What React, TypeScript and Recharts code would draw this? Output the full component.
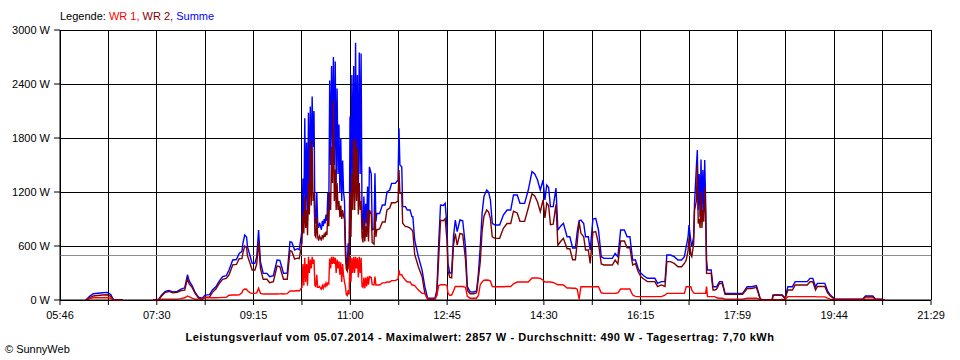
import React from 'react';
import { LineChart, Line, XAxis, YAxis, CartesianGrid, ReferenceLine } from 'recharts';

// time of each sample (HH:MM), a null row breaks the line
const times = [
  '06:14', '06:18', '06:22', '06:27', '06:32', '06:37', '06:41', '06:44', '06:54', '06:55',
  '07:27', '07:33', '07:36', '07:40', '07:44', '07:48', '07:53', '07:57', '08:01', '08:04',
  '08:06', '08:09', '08:12', '08:16', '08:20', '08:23', '08:28', '08:31', '08:35', '08:38',
  '08:42', '08:46', '08:49', '08:53', '08:57', '09:00', '09:03', '09:04', '09:06', '09:08',
  '09:09', '09:12', '09:14', '09:17', '09:19', '09:21', '09:23', '09:26', '09:30', '09:33',
  '09:37', '09:41', '09:44', '09:46', '09:48', '09:52', '09:55', '09:57', '10:00', '10:03',
  '10:05', '10:06', '10:07', '10:08', '10:09', '10:10', '10:11', '10:12', '10:13', '10:14',
  '10:15', '10:16', '10:17', '10:18', '10:19', '10:20', '10:21', '10:22', '10:23', '10:24',
  '10:25', '10:26', '10:27', '10:28', '10:29', '10:30', '10:31', '10:32', '10:33', '10:34',
  '10:35', '10:36', '10:37', '10:38', '10:39', '10:40', '10:41', '10:42', '10:43', '10:44',
  '10:45', '10:46', '10:47', '10:48', '10:49', '10:50', '10:51', '10:52', '10:53', '10:54',
  '10:55', '10:56', '10:57', '10:58', '10:59', '11:00', '11:01', '11:02', '11:03', '11:04',
  '11:05', '11:06', '11:07', '11:08', '11:09', '11:10', '11:11', '11:12', '11:13', '11:14',
  '11:15', '11:16', '11:17', '11:18', '11:19', '11:20', '11:21', '11:23', '11:24', '11:26',
  '11:27', '11:28', '11:29', '11:32', '11:35', '11:38', '11:40', '11:43', '11:45', '11:49',
  '11:52', '11:53', '11:54', '11:56', '11:57', '12:00', '12:02', '12:05', '12:07', '12:08',
  '12:10', '12:14', '12:18', '12:21', '12:24', '12:28', '12:32', '12:34', '12:36', '12:38',
  '12:41', '12:43', '12:45', '12:46', '12:48', '12:50', '12:52', '12:54', '12:56', '12:59',
  '13:02', '13:05', '13:07', '13:10', '13:14', '13:17', '13:19', '13:21', '13:23', '13:25',
  '13:28', '13:30', '13:32', '13:34', '13:37', '13:42', '13:46', '13:50', '13:54', '13:57',
  '14:01', '14:04', '14:09', '14:13', '14:17', '14:20', '14:23', '14:26', '14:29', '14:31',
  '14:33', '14:35', '14:37', '14:40', '14:43', '14:45', '14:48', '14:51', '14:55', '14:58',
  '15:01', '15:04', '15:06', '15:08', '15:10', '15:13', '15:15', '15:18', '15:20', '15:23',
  '15:26', '15:29', '15:32', '15:35', '15:40', '15:44', '15:47', '15:50', '15:53', '15:57',
  '16:00', '16:03', '16:06', '16:09', '16:12', '16:15', '16:18', '16:22', '16:26', '16:30',
  '16:33', '16:37', '16:41', '16:43', '16:47', '16:51', '16:55', '16:59', '17:02', '17:04',
  '17:06', '17:07', '17:09', '17:10', '17:12', '17:13', '17:15', '17:16', '17:17', '17:18',
  '17:19', '17:20', '17:21', '17:22', '17:23', '17:24', '17:25', '17:26', '17:27', '17:29',
  '17:31', '17:33', '17:35', '17:37', '17:40', '17:43', '17:46', '17:51', '17:55', '18:00',
  '18:05', '18:10', '18:15', '18:20', '18:24', '18:26', '18:37', '18:38', '18:43', '18:48',
  '18:51', '18:54', '18:59', '19:02', '19:07', '19:12', '19:15', '19:18', '19:21', '19:24',
  '19:26', '19:30', '19:34', '19:37', '19:40', '19:45', '19:55', '20:05', '20:15', '20:18',
  '20:23', '20:26', '20:29', '20:35', '20:39',
];

// WR 1 (W)
const wr1 = [
  0, 15, 25, 25, 25, 27, 20, 0, 0, null,
  0, 5, 10, 10, 10, 10, 10, 15, 25, 45,
  35, 20, 10, 10, 10, 25, 25, 26, 25, 26,
  29, 30, 53, 55, 55, 58, 80, 110, 122, 120,
  102, 80, 74, 74, 80, 130, 74, 66, 66, 67,
  67, 67, 68, 70, 66, 70, 100, 100, 100, 105,
  100, 110, 130, 140, 400, 160, 470, 200, 400, 160,
  480, 300, 450, 350, 480, 400, 450, 160, 150, 280,
  140, 140, 150, 130, 120, 160, 130, 170, 150, 190,
  160, 190, 180, 460, 350, 480, 400, 480, 400, 470,
  300, 450, 350, 430, 280, 420, 200, 400, 270, 200,
  150, 60, 50, 110, 60, 480, 200, 470, 300, 480,
  300, 480, 350, 470, 250, 480, 300, 470, 150, 140,
  250, 130, 250, 150, 260, 170, 260, 250, 170, 167,
  260, 167, 167, 167, 190, 190, 200, 200, 215, 215,
  233, 333, 280, 280, 259, 220, 200, 200, 167, 167,
  160, 110, 74, 74, 10, 10, 10, 50, 160, 170,
  170, 170, 160, 80, 50, 55, 100, 150, 150, 150,
  150, 140, 40, 20, 20, 20, 50, 170, 200, 220,
  222, 220, 210, 150, 148, 148, 148, 150, 150, 180,
  200, 200, 200, 200, 245, 245, 245, 240, 220, 200,
  200, 200, 200, 195, 180, 170, 170, 167, 133, 133,
  130, 130, 120, 10, 148, 148, 148, 148, 148, 148,
  148, 148, 80, 74, 74, 74, 74, 80, 122, 122,
  122, 122, 55, 40, 37, 37, 37, 37, 37, 37,
  37, 37, 54, 74, 74, 74, 74, 74, 74, 148,
  148, 148, 148, 110, 80, 74, 74, 74, 74, 74,
  74, 74, 74, 74, 74, 74, 74, 148, 37, 37,
  37, 37, 37, 25, 20, 20, 10, 10, 10, 10,
  10, 20, 20, 20, 10, 0, 0, 5, 0, 5,
  5, 37, 37, 37, 37, 37, 37, 37, 37, 37,
  35, 35, 35, 20, 10, 5, 5, 5, 5, 10,
  10, 10, 5, 5, 0,
];

// WR 2 (W)
const wr2 = [
  0, 25, 45, 50, 55, 58, 40, 0, 0, null,
  0, 5, 45, 85, 95, 80, 85, 105, 110, 235,
  175, 140, 80, 20, 10, 30, 35, 85, 125, 178,
  230, 240, 280, 390, 395, 460, 460, 520, 600, 580,
  490, 400, 333, 333, 400, 648, 352, 230, 230, 192,
  203, 377, 372, 300, 230, 230, 548, 540, 455, 465,
  460, 520, 570, 640, 950, 740, 1150, 800, 1000, 720,
  1300, 950, 1780, 1050, 1700, 1100, 1200, 720, 700, 920,
  700, 660, 710, 690, 660, 720, 690, 730, 700, 760,
  720, 1000, 820, 1200, 1000, 1700, 1300, 2220, 1100, 1450,
  1000, 1300, 1000, 1100, 920, 1050, 900, 1000, 930, 900,
  500, 340, 320, 520, 340, 1185, 700, 1400, 1000, 1780,
  1000, 1790, 1100, 1700, 950, 1300, 1000, 1100, 700, 640,
  900, 650, 820, 700, 1000, 650, 1000, 950, 640, 620,
  1000, 700, 780, 790, 866, 866, 1000, 1022, 1080, 1080,
  1100, 1444, 1185, 1185, 852, 815, 815, 800, 778, 760,
  507, 370, 259, 74, 10, 10, 10, 60, 470, 885,
  880, 904, 655, 327, 250, 245, 603, 739, 610, 739,
  730, 453, 108, 70, 69, 80, 246, 423, 763, 930,
  1000, 980, 901, 702, 685, 685, 796, 850, 850, 987,
  967, 874, 874, 1022, 1181, 1155, 1088, 982, 1113, 911,
  1078, 1050, 837, 842, 1064, 608, 650, 685, 570, 570,
  448, 448, 639, 870, 741, 702, 555, 555, 407, 752,
  759, 630, 401, 389, 389, 389, 444, 401, 656, 656,
  581, 581, 389, 404, 313, 259, 233, 204, 204, 204,
  148, 167, 150, 426, 426, 407, 370, 370, 406, 444,
  552, 685, 502, 482, 620, 1000, 1100, 1500, 850, 900,
  800, 1200, 800, 1000, 870, 1250, 950, 296, 296, 296,
  296, 111, 111, 123, 184, 184, 64, 64, 64, 64,
  64, 128, 128, 140, 10, 0, 0, 50, 55, 50,
  15, 111, 111, 167, 167, 167, 167, 203, 203, 111,
  150, 150, 150, 80, 45, 5, 5, 5, 5, 34,
  34, 34, 5, 5, 0,
];

// Summe (W)
const summe = [
  0, 40, 70, 75, 80, 85, 60, 0, 0, null,
  0, 10, 55, 95, 105, 90, 95, 120, 135, 280,
  210, 160, 90, 30, 20, 55, 60, 111, 150, 204,
  259, 270, 333, 445, 450, 518, 540, 630, 722, 700,
  592, 480, 407, 407, 480, 778, 426, 296, 296, 259,
  270, 444, 440, 370, 296, 300, 648, 640, 555, 570,
  560, 630, 700, 780, 1350, 900, 2020, 1000, 1750, 880,
  2080, 1250, 2150, 1400, 2260, 1700, 2100, 880, 850, 1200,
  840, 800, 860, 820, 780, 880, 820, 900, 850, 950,
  880, 1190, 1000, 2440, 1500, 2600, 1700, 2700, 1500, 2650,
  1300, 2350, 1400, 1950, 1200, 1800, 1100, 1550, 1200, 1100,
  650, 400, 370, 630, 400, 2040, 900, 2500, 1400, 2600,
  1300, 2857, 1500, 2500, 1200, 2750, 1400, 2740, 850, 780,
  1150, 780, 1070, 850, 1260, 820, 1480, 1400, 780, 790,
  1407, 870, 963, 960, 1056, 1056, 1200, 1222, 1296, 1296,
  1333, 1907, 1500, 1480, 1037, 1037, 1000, 1000, 926, 926,
  667, 481, 333, 148, 20, 20, 20, 111, 630, 1055,
  1050, 1074, 815, 407, 300, 300, 703, 889, 760, 889,
  880, 593, 148, 90, 89, 100, 296, 593, 963, 1150,
  1222, 1200, 1111, 852, 833, 833, 944, 1000, 1000, 1167,
  1167, 1074, 1074, 1222, 1426, 1400, 1333, 1222, 1333, 1111,
  1278, 1250, 1037, 1037, 1244, 778, 820, 852, 703, 703,
  578, 578, 759, 880, 889, 850, 703, 703, 555, 900,
  907, 778, 481, 463, 463, 463, 518, 481, 778, 778,
  703, 703, 444, 444, 350, 296, 270, 241, 241, 241,
  185, 204, 204, 500, 500, 481, 444, 444, 480, 592,
  700, 833, 650, 592, 700, 1074, 1481, 1667, 1000, 1400,
  926, 1560, 926, 1444, 1000, 1556, 1100, 444, 333, 333,
  333, 148, 148, 148, 204, 204, 74, 74, 74, 74,
  74, 148, 148, 160, 20, 0, 0, 55, 55, 55,
  20, 148, 148, 204, 204, 204, 204, 240, 240, 148,
  185, 185, 185, 100, 55, 10, 10, 10, 10, 44,
  44, 44, 10, 10, 0,
];

const timeLabels = ['05:46', '07:30', '09:15', '11:00', '12:45', '14:30', '16:15', '17:59', '19:44', '21:29'];
const yTicks = [0, 600, 1200, 1800, 2400, 3000];
const average = 490;
const title = 'Leistungsverlauf vom 05.07.2014 - Maximalwert: 2857 W - Durchschnitt: 490 W - Tagesertrag: 7,70 kWh';

const toMin = (s: string) => {
  const [h, m] = s.split(':').map(Number);
  return h * 60 + m;
};

const tStart = toMin(timeLabels[0]);
const tEnd = toMin(timeLabels[timeLabels.length - 1]);
// a grid line every half label step
const xTicks = Array.from({ length: 19 }, (_, i) => tStart + ((tEnd - tStart) * i) / 18);

const data = times.map((t, i) => ({ t: toMin(t), wr1: wr1[i], wr2: wr2[i], summe: summe[i] }));

const FONT = '"Liberation Sans", Arial, sans-serif';

export default function App() {
  return (
    <div style={{ position: 'absolute', left: 0, top: 0, width: 960, height: 360, background: '#fff', fontFamily: FONT, fontSize: 11, color: '#000' }}>
      <div style={{ position: 'absolute', left: 60, top: 10, lineHeight: '12px', whiteSpace: 'nowrap' }}>
        Legende: <span style={{ color: '#ff0000' }}>WR 1, </span>
        <span style={{ color: '#800000' }}>WR 2, </span>
        <span style={{ color: '#0000ff' }}>Summe</span>
      </div>
      <LineChart width={960} height={360} data={data} margin={{ top: 30, right: 29, bottom: 0, left: 0 }}>
        <CartesianGrid stroke="#000" shapeRendering="crispEdges" />
        <XAxis
          dataKey="t"
          type="number"
          domain={[tStart, tEnd]}
          ticks={xTicks}
          interval={0}
          height={60}
          tickSize={5}
          tickMargin={6}
          stroke="#000"
          tick={{ fill: '#000', fontSize: 11, fontFamily: FONT }}
          tickFormatter={(v: number, i: number) => (i % 2 === 0 ? timeLabels[i / 2] : '')}
        />
        <YAxis
          domain={[0, 3000]}
          ticks={yTicks}
          width={60}
          tickSize={6}
          tickMargin={4}
          stroke="#000"
          tick={{ fill: '#000', fontSize: 11, fontFamily: FONT }}
          tickFormatter={(v: number) => `${v} W`}
        />
        <ReferenceLine y={average} stroke="#8c8c8c" shapeRendering="crispEdges" />
        <Line dataKey="summe" type="linear" stroke="#0000ff" strokeWidth={1.4} dot={false} isAnimationActive={false} />
        <Line dataKey="wr2" type="linear" stroke="#800000" strokeWidth={1.4} dot={false} isAnimationActive={false} />
        <Line dataKey="wr1" type="linear" stroke="#ff0000" strokeWidth={1.4} dot={false} isAnimationActive={false} />
      </LineChart>
      <div style={{ position: 'absolute', left: 0, width: 960, top: 331, textAlign: 'center', fontWeight: 'bold', lineHeight: '12px', whiteSpace: 'nowrap', letterSpacing: '0.55px' }}>
        {title}
      </div>
      <div style={{ position: 'absolute', left: 5, top: 343, lineHeight: '12px' }}>© SunnyWeb</div>
    </div>
  );
}
